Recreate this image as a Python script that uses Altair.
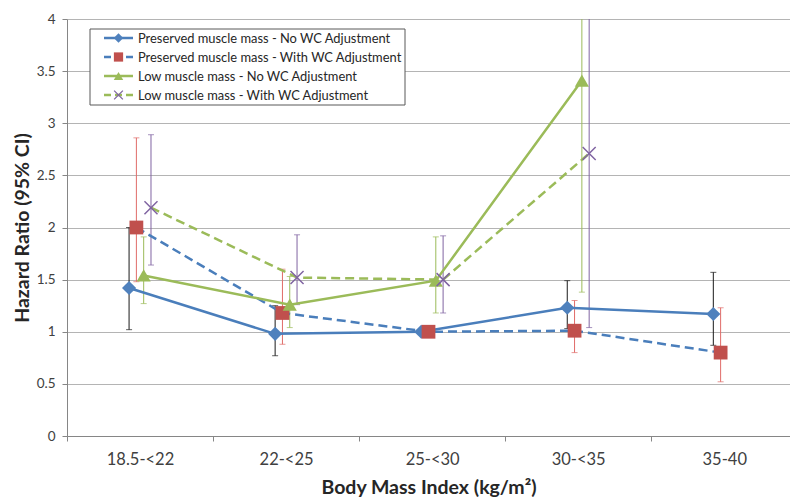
import json
import altair as alt
import pandas as pd

# BMI categories along the x axis
categories = ["18.5-<22", "22-<25", "25-<30", "30-<35", "35-40"]

series_names = [
    "Preserved muscle mass - No WC Adjustment",
    "Preserved muscle mass - With WC Adjustment",
    "Low muscle mass - No WC Adjustment",
    "Low muscle mass - With WC Adjustment",
]

# Hazard ratios with lower / upper 95% confidence limits (None = not estimated)
hr_pres_nowc = [1.42, 0.98, 1.00, 1.23, 1.17]
lo_pres_nowc = [1.02, 0.77, None, 1.03, 0.87]
hi_pres_nowc = [2.00, 1.25, None, 1.49, 1.57]

hr_pres_wc = [2.00, 1.18, 1.00, 1.01, 0.80]
lo_pres_wc = [1.48, 0.88, None, 0.80, 0.52]
hi_pres_wc = [2.86, 1.60, None, 1.30, 1.23]

hr_low_nowc = [1.54, 1.26, 1.49, 3.41, None]
lo_low_nowc = [1.27, 1.04, 1.18, 1.38, None]
hi_low_nowc = [1.91, 1.53, 1.91, 8.40, None]

hr_low_wc = [2.19, 1.52, 1.50, 2.71, None]
lo_low_wc = [1.64, 1.26, 1.18, 1.04, None]
hi_low_wc = [2.89, 1.93, 1.92, 7.05, None]

values = {
    series_names[0]: (hr_pres_nowc, lo_pres_nowc, hi_pres_nowc),
    series_names[1]: (hr_pres_wc, lo_pres_wc, hi_pres_wc),
    series_names[2]: (hr_low_nowc, lo_low_nowc, hi_low_nowc),
    series_names[3]: (hr_low_wc, lo_low_wc, hi_low_wc),
}

# per-series styling: horizontal nudge within category, line, marker, error bar
X_SHAPE = "M-1,-1L1,1M1,-1L-1,1"
styles = {
    series_names[0]: dict(offset=-0.075, line="#4A7EBB", dash=None, shape="diamond",
                          marker="#4F81BD", filled=True, size=200, err="#1a1a1a"),
    series_names[1]: dict(offset=-0.025, line="#4A7EBB", dash=[9, 5], shape="square",
                          marker="#C0504D", filled=True, size=190, err="#E06B68"),
    series_names[2]: dict(offset=0.025, line="#9BBB59", dash=None, shape="triangle-up",
                          marker="#9BBB59", filled=True, size=200, err="#9BBB59"),
    series_names[3]: dict(offset=0.075, line="#9BBB59", dash=[9, 5], shape=X_SHAPE,
                          marker="#8064A2", filled=False, size=170, err="#8064A2"),
}

rows = []
for name in series_names:
    hr, lo, hi = values[name]
    for i, cat in enumerate(categories):
        if hr[i] is None:
            continue
        rows.append(dict(series=name, category=cat,
                         xpos=i + styles[name]["offset"],
                         hr=hr[i], lo=lo[i], hi=hi[i]))
df = pd.DataFrame(rows)

W, H = 723, 417
FONT = "Lato"
GRID = "#b4b4b4"
AXIS = "#868686"
TEXT = "#404040"

x_scale = alt.Scale(domain=[-0.5, 4.45], nice=False, zero=False)
y_scale = alt.Scale(domain=[0, 4], nice=False)

label_expr = json.dumps(categories) + "[round(datum.value + 0.5)]"
x_axis = alt.Axis(
    values=[-0.5, 0.5, 1.5, 2.5, 3.5], labelExpr=label_expr, labelOffset=73,
    grid=False, tickSize=5, tickColor=AXIS, domainColor=AXIS,
    labelFontSize=16.5, labelColor=TEXT, labelPadding=10, labelFlush=False,
    labelOverlap=False, labelBound=False,
    title="Body Mass Index (kg/m²)", titleFontSize=19.5, titleFontWeight="bold",
    titleColor="#262626", titleY=51, titleBaseline="middle",
)
y_axis = alt.Axis(
    values=[0, 0.5, 1, 1.5, 2, 2.5, 3, 3.5, 4], format="~g",
    grid=True, gridColor=GRID, tickSize=5, tickColor=AXIS, domainColor=AXIS,
    labelFontSize=13.5, labelColor=TEXT, labelPadding=7,
    title="Hazard Ratio (95% CI)", titleFontSize=19.5, titleFontWeight="bold",
    titleColor="#262626", titleX=-45, titleY=H / 2, titleAngle=270,
    titleBaseline="middle", titleAlign="center",
)


def X():
    return alt.X("xpos:Q", scale=x_scale, axis=x_axis)


def Y(field):
    return alt.Y(f"{field}:Q", scale=y_scale, axis=y_axis)


base = alt.Chart(df)
layers = []

# confidence intervals
for name in series_names:
    st = styles[name]
    d = base.transform_filter(alt.datum.series == name).transform_filter("isValid(datum.lo)")
    layers.append(d.mark_rule(color=st["err"], strokeWidth=1, clip=True)
                  .encode(x=X(), y=Y("lo"), y2="hi:Q"))
    for f in ("lo", "hi"):
        layers.append(d.mark_tick(color=st["err"], orient="horizontal", size=6,
                                  thickness=1, clip=True)
                      .encode(x=X(), y=Y(f)))

# connecting lines and markers
for name in series_names:
    st = styles[name]
    d = base.transform_filter(alt.datum.series == name)
    line_kw = dict(color=st["line"], strokeWidth=2.5)
    if st["dash"]:
        line_kw["strokeDash"] = st["dash"]
    layers.append(d.mark_line(**line_kw).encode(x=X(), y=Y("hr"), order="xpos:Q"))
for name in series_names:
    st = styles[name]
    d = base.transform_filter(alt.datum.series == name)
    pt_kw = dict(shape=st["shape"], size=st["size"], filled=st["filled"],
                 color=st["marker"], opacity=1)
    if not st["filled"]:
        pt_kw["strokeWidth"] = 1.5
    layers.append(d.mark_point(**pt_kw).encode(x=X(), y=Y("hr")))

# legend box with line + marker samples
one = alt.Data(values=[{}])
layers.append(alt.Chart(one).mark_rect(fill="white", stroke="#595959", strokeWidth=1)
              .encode(x=alt.value(23), x2=alt.value(338), y=alt.value(10), y2=alt.value(86)))
for k, name in enumerate(series_names):
    st = styles[name]
    ly = 19 + 19 * k
    line_kw = dict(color=st["line"], strokeWidth=2.5)
    if st["dash"]:
        line_kw["strokeDash"] = [7, 4]
    layers.append(alt.Chart(one).mark_rule(**line_kw)
                  .encode(x=alt.value(37), x2=alt.value(66), y=alt.value(ly)))
    pt_kw = dict(shape=st["shape"], filled=st["filled"], color=st["marker"], opacity=1,
                 size=st["size"] * 0.45)
    if not st["filled"]:
        pt_kw["strokeWidth"] = 1.3
    layers.append(alt.Chart(one).mark_point(**pt_kw)
                  .encode(x=alt.value(51.5), y=alt.value(ly)))
    layers.append(alt.Chart(one).mark_text(text=name, align="left", baseline="middle",
                                           fontSize=12.9, font=FONT, color="#262626")
                  .encode(x=alt.value(71), y=alt.value(ly + 0.5)))

chart = (
    alt.layer(*layers)
    .properties(width=W, height=H, autosize="none",
                padding={"left": 67, "top": 19, "right": 0, "bottom": 63})
    .configure(font=FONT)
    .configure_view(strokeWidth=0)
)

chart.save("out.html", embed_options={"renderer": "svg", "actions": False})
